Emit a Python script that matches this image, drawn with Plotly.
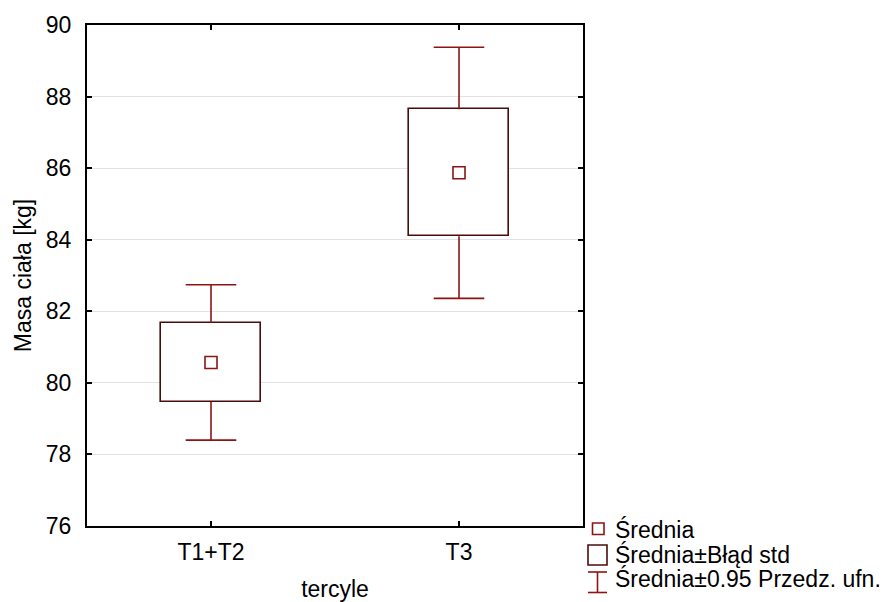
import plotly.graph_objects as go

# Group summary: mean body mass, standard error and 95% CI half-width
categories = ["T1+T2", "T3"]
means = [80.57, 85.87]
std_err = [1.105, 1.775]
ci_half = [2.17, 3.51]

y_ticks = [76, 78, 80, 82, 84, 86, 88, 90]

BOX_COLOR = "#4a0d0d"
WHISKER_COLOR = "#8e1414"
FONT = "Liberation Sans, Arial, sans-serif"
FS = 23

xs = list(range(len(categories)))
box_w = 0.4
cap_half = 0.102

fig = go.Figure()

# Mean ± SE boxes
fig.add_trace(go.Bar(
    x=xs,
    y=[2 * s for s in std_err],
    base=[m - s for m, s in zip(means, std_err)],
    width=box_w,
    marker=dict(color="white", line=dict(color=BOX_COLOR, width=1.6)),
    showlegend=False,
    hoverinfo="skip",
))

# Whiskers for the 95% confidence interval, drawn outside the boxes
wx, wy = [], []
for x, m, s, c in zip(xs, means, std_err, ci_half):
    top_box, bot_box = m + s, m - s
    hi, lo = m + c, m - c
    wx += [x, x, None, x - cap_half, x + cap_half, None]
    wy += [top_box, hi, None, hi, hi, None]
    wx += [x, x, None, x - cap_half, x + cap_half, None]
    wy += [bot_box, lo, None, lo, lo, None]
fig.add_trace(go.Scatter(
    x=wx, y=wy, mode="lines",
    line=dict(color=WHISKER_COLOR, width=1.6),
    showlegend=False, hoverinfo="skip",
))

# Means
fig.add_trace(go.Scatter(
    x=xs, y=means, mode="markers",
    marker=dict(symbol="square-open", size=12,
                color=WHISKER_COLOR, line=dict(width=1.6, color=WHISKER_COLOR)),
    showlegend=False,
))

# Plot area in pixels
W, H = 889, 602
L, R, T, B = 87, 583, 25, 526


def px(x):
    return (x - L) / (R - L)


def py(y):
    return (B - y) / (B - T)


# Legend drawn beside the bottom-right corner of the plot
shapes = []
shapes.append(dict(type="rect", xref="paper", yref="paper",
                   x0=px(592.5), x1=px(604), y0=py(534.5), y1=py(523),
                   line=dict(color=WHISKER_COLOR, width=1.6)))
shapes.append(dict(type="rect", xref="paper", yref="paper",
                   x0=px(588), x1=px(607), y0=py(565), y1=py(545),
                   line=dict(color=BOX_COLOR, width=1.6)))
for seg in [((597.5, 572), (597.5, 592.5)), ((588, 572), (607, 572)), ((588, 592.5), (607, 592.5))]:
    (x0, y0), (x1, y1) = seg
    shapes.append(dict(type="line", xref="paper", yref="paper",
                       x0=px(x0), x1=px(x1), y0=py(y0), y1=py(y1),
                       line=dict(color=WHISKER_COLOR, width=1.6)))

legend_labels = ["Średnia", "Średnia±Błąd std", "Średnia±0.95 Przedz. ufn."]
legend_y = [529, 554, 578]
annotations = []
for lab, yy in zip(legend_labels, legend_y):
    annotations.append(dict(text=lab, xref="paper", yref="paper",
                            x=px(613), y=py(yy), xanchor="left", yanchor="middle",
                            showarrow=False, font=dict(family=FONT, size=FS, color="black")))

fig.update_layout(
    width=W, height=H,
    margin=dict(l=L, r=W - R, t=T, b=H - B),
    paper_bgcolor="white", plot_bgcolor="white",
    font=dict(family=FONT, size=FS, color="black"),
    shapes=shapes, annotations=annotations,
    showlegend=False,
    bargap=0,
)
fig.update_xaxes(
    range=[-0.5, len(categories) - 0.5],
    tickvals=xs, ticktext=categories,
    ticks="inside", ticklen=5, tickwidth=1.5, tickcolor="black",
    showline=True, linecolor="black", linewidth=2, mirror="ticks",
    showgrid=False, zeroline=False,
    ticklabelstandoff=4,
    title=dict(text="tercyle", standoff=20, font=dict(size=FS)),
    automargin=False,
)
fig.update_yaxes(
    range=[76, 90], tickvals=y_ticks,
    ticks="inside", ticklen=5, tickwidth=1.5, tickcolor="black",
    showline=True, linecolor="black", linewidth=2, mirror="ticks",
    showgrid=True, gridcolor="#e2e2e2", gridwidth=1.2, zeroline=False,
    ticklabelstandoff=9,
    title=dict(text="Masa ciała [kg]", standoff=8, font=dict(size=FS)),
    automargin=False,
)

fig.write_html("out.html")
